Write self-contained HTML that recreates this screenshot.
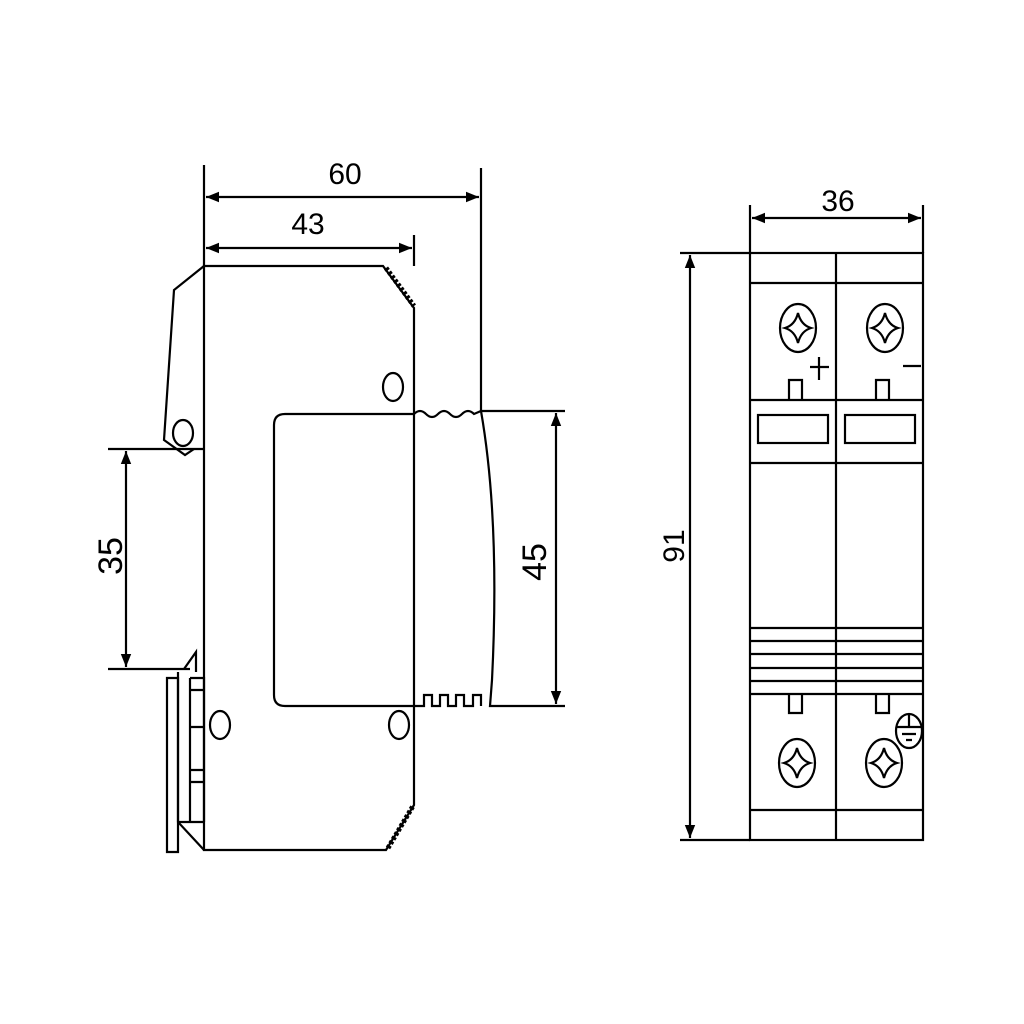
<!DOCTYPE html>
<html><head><style>html,body{margin:0;background:#fff}svg{display:block}</style></head><body>
<svg width="1024" height="1024" viewBox="0 0 1024 1024" xmlns="http://www.w3.org/2000/svg">
<defs>
<marker id="a" viewBox="0 0 10 10" refX="10" refY="5" markerWidth="6" markerHeight="6" orient="auto-start-reverse"><path d="M0,1L10,5L0,9z" fill="#000"/></marker>
</defs>
<g fill="none" stroke="#000" stroke-width="2.2">
<path d="M204,266H383L414,308V805L386,850H204Z"/>
<path d="M204,266L174,290L164,440L185,455L194,449"/>
<ellipse cx="183" cy="433" rx="10" ry="13"/>
<path d="M108,449H204"/><path d="M108,669H190"/>
<path d="M184,669L196,652V672"/>
<path d="M178,672V822L204,850M178,822H204M190,678H204V822M190,678V822M190,690H204M190,727H204M190,770H204M190,782H204"/>
<path d="M167,678H178V852H167Z"/>
<ellipse cx="393" cy="387" rx="10" ry="14"/>
<ellipse cx="220" cy="725" rx="10" ry="14"/>
<ellipse cx="399" cy="725" rx="10" ry="14"/>
<path d="M414,414H285Q274,414 274,425V695Q274,706 285,706H414"/>
<path d="M414,414Q420,408 426,414T438,414T450,414T462,414T474,414L481,411H565"/>
<path d="M481,411Q500,520 492,680L490,706H565"/>
<path d="M414,706H424V695H432V706H440V695H448V706H456V695H464V706H473V695H481V706"/>
<path d="M386,268L414,306" stroke-dasharray="3,2" stroke-width="5"/>
<path d="M388,848L413,806" stroke-dasharray="3,2" stroke-width="5"/>
<path d="M204,165V266M481,168V411M414,235V266"/>
<path d="M206,197H479" marker-start="url(#a)" marker-end="url(#a)"/>
<path d="M206,248H412" marker-start="url(#a)" marker-end="url(#a)"/>
<path d="M126,451V667" marker-start="url(#a)" marker-end="url(#a)"/>
<path d="M556,413V704" marker-start="url(#a)" marker-end="url(#a)"/>
<rect x="750" y="253" width="173" height="587"/>
<path d="M836,253V840M750,283H923M750,400H923M750,463H923M750,628H923M750,641H923M750,654H923M750,668H923M750,681H923M750,694H923M750,810H923"/>
<rect x="758" y="415" width="70" height="28"/><rect x="845" y="415" width="70" height="28"/>
<path d="M789,400V380H802V400M876,400V380H889V400"/>
<path d="M789,694V713H802V694M876,694V713H889V694"/>
<ellipse cx="798" cy="328" rx="18" ry="24"/><ellipse cx="885" cy="328" rx="18" ry="24"/>
<ellipse cx="797" cy="763" rx="18" ry="24"/><ellipse cx="884" cy="763" rx="18" ry="24"/>
<path d="M798,313Q801,325 811,328Q801,331 798,343Q795,331 785,328Q795,325 798,313Z"/>
<path d="M885,313Q888,325 898,328Q888,331 885,343Q882,331 872,328Q882,325 885,313Z"/>
<path d="M797,748Q800,760 810,763Q800,766 797,778Q794,766 784,763Q794,760 797,748Z"/>
<path d="M884,748Q887,760 897,763Q887,766 884,778Q881,766 871,763Q881,760 884,748Z"/>
<path d="M810,367H829M819,357V380M903,366H921"/>
<ellipse cx="909" cy="731" rx="13" ry="17"/>
<path d="M896,727H922M909,714V727M902,734H916M906,740H912"/>
<path d="M680,253H750M680,840H750M750,205V253M923,205V253"/>
<path d="M690,255V838" marker-start="url(#a)" marker-end="url(#a)"/>
<path d="M752,218H921" marker-start="url(#a)" marker-end="url(#a)"/>
</g>
<g font-family="Liberation Sans, sans-serif" font-size="30" text-anchor="middle">
<text x="345" y="184">60</text>
<text x="308" y="234">43</text>
<text x="838" y="211">36</text>
<text font-size="34" transform="translate(122,556) rotate(-90)">35</text>
<text font-size="34" transform="translate(546,562) rotate(-90)">45</text>
<text transform="translate(684,546) rotate(-90)">91</text>
</g>
</svg>
</body></html>
